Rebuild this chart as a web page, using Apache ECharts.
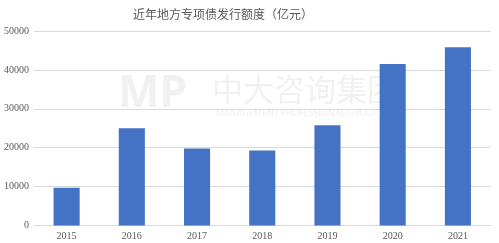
<!DOCTYPE html>
<html>
<head>
<meta charset="utf-8">
<script src="https://cdn.jsdelivr.net/npm/echarts@6/dist/echarts.min.js"></script>
<style>
  html, body { margin: 0; padding: 0; background: #fff; }
  #chart { width: 499px; height: 243px; }
</style>
</head>
<body>
<div id="chart"></div>
<script>
// 近年地方专项债发行额度（亿元）
const years = ['2015', '2016', '2017', '2018', '2019', '2020', '2021'];
const amounts = [9700, 25000, 19800, 19300, 25800, 41500, 45800];
const yTicks = { min: 0, max: 50000, interval: 10000 };

const myChart = echarts.init(document.getElementById('chart'));
const option = {
    animation: false,
    title: {
        text: '近年地方专项债发行额度（亿元）',
        left: 218,
        top: 3,
        textAlign: 'center',
        textStyle: {
            fontFamily: 'Noto Sans CJK SC',
            fontSize: 12,
            fontWeight: 'normal',
            color: '#595959'
        }
    },
    // 水印
    graphic: [
        {
            type: 'text', left: 118, top: 72, z: 0, silent: true,
            style: { text: 'MP', font: 'bold 44px "Open Sans"', fill: '#f1f1f1' }
        },
        {
            type: 'text', left: 212, top: 74, z: 0, silent: true,
            style: { text: '中大咨询集团', font: '31px "Noto Sans CJK SC"', fill: '#f1f1f1' }
        },
        {
            type: 'text', left: 216, top: 109, z: 0, silent: true,
            style: { text: 'MANAGEMENT PROFESSIONAL GROUP', font: '9px "Open Sans"', fill: '#eeeeee' }
        }
    ],
    grid: { left: 34, right: 8.5, top: 31, bottom: 17.5, containLabel: false },
    xAxis: {
        type: 'category',
        data: years,
        axisTick: { show: false },
        axisLine: { lineStyle: { color: '#d9d9d9' } },
        axisLabel: {
            fontFamily: 'Liberation Serif',
            fontSize: 10,
            color: '#595959',
            margin: 6
        }
    },
    yAxis: {
        type: 'value',
        min: yTicks.min,
        max: yTicks.max,
        interval: yTicks.interval,
        axisLine: { show: false },
        axisTick: { show: false },
        splitLine: { lineStyle: { color: '#d9d9d9' } },
        axisLabel: {
            fontFamily: 'Liberation Serif',
            fontSize: 10,
            color: '#595959',
            margin: 5,
            formatter: (v) => String(v)
        }
    },
    series: [
        {
            type: 'bar',
            data: amounts,
            barWidth: '40%',
            itemStyle: { color: '#4472C4' },
            z: 2
        }
    ]
};
myChart.setOption(option);
</script>
</body>
</html>
